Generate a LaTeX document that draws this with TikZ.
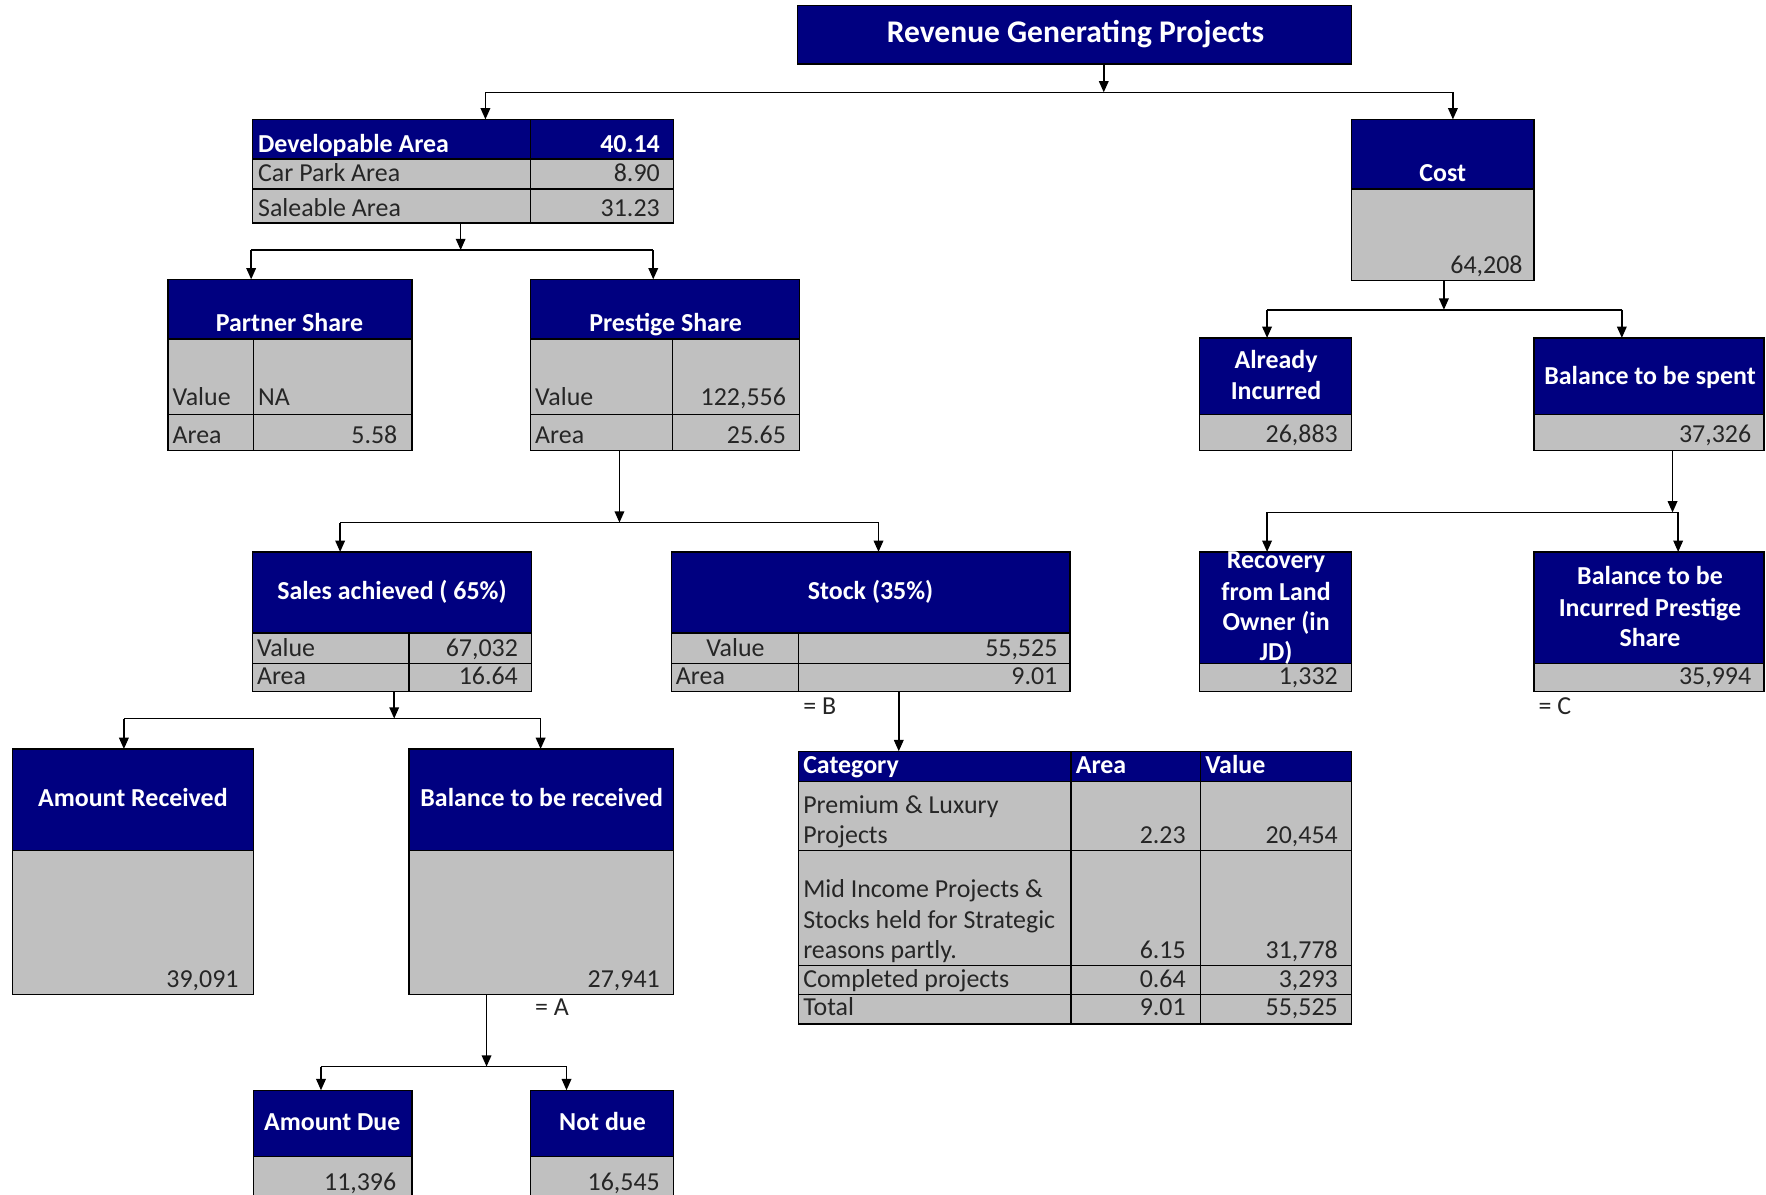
\documentclass[tikz,border=0pt]{standalone}
\usepackage{fontspec}
\setmainfont{Carlito}
\usetikzlibrary{arrows.meta,fit}
\definecolor{navyc}{RGB}{0,0,128}
\definecolor{greyc}{RGB}{192,192,192}
\newcommand\hcell[4]{\path[hd] (#1,#2) rectangle (#3,#4);}
\newcommand\gcell[4]{\path[gc] (#1,#2) rectangle (#3,#4);}
\begin{document}
\begin{tikzpicture}[x=1pt,y=-1pt,
  hd/.style={fill=navyc, draw=black, line width=1.3pt},
  gc/.style={fill=greyc, draw=black, line width=1.3pt},
  wt/.style={text=white, font=\bfseries\fontsize{23}{27.5}\selectfont, inner sep=0pt},
  bt/.style={text=black!85, font=\fontsize{23}{27.5}\selectfont, inner sep=0pt},
  frm/.style={inner sep=0pt, outer sep=0pt},
  conn/.style={line width=1.4pt},
  arr/.style={conn, -{Triangle[length=10pt,width=8.5pt]}},
]
\useasboundingbox (0,0) rectangle (1568,1061);
\clip (0,0) rectangle (1568,1061);
\fill[white] (0,0) rectangle (1568,1061);

% ---------- Title
\hcell{708}{5}{1200}{57}
\node[frm, fit={(708,5) (1200,57)}] (title) {};
\node[wt, font=\bfseries\fontsize{28}{30}\selectfont, anchor=base] (titletxt) at (955,38) {Revenue Generating Projects};

% ---------- Developable area
\hcell{224}{106}{471}{141}\hcell{471}{106}{598}{141}
\gcell{224}{141}{471}{168}\gcell{471}{141}{598}{168}
\gcell{224}{168}{471}{198}\gcell{471}{168}{598}{198}
\node[frm, fit={(224,106) (598,198)}] (dev) {};
\node[wt, anchor=base west] (d1) at (229,135) {Developable Area};
\node[wt, anchor=base east] (d2) at (586,135) {40.14};
\node[bt, anchor=base west] (d3) at (229,161) {Car Park Area};
\node[bt, anchor=base east] (d4) at (586,161) {8.90};
\node[bt, anchor=base west] (d5) at (229,192) {Saleable Area};
\node[bt, anchor=base east] (d6) at (586,192) {31.23};

% ---------- Partner share
\hcell{149}{248}{366}{301}
\gcell{149}{301}{225}{368}\gcell{225}{301}{366}{368}
\gcell{149}{368}{225}{400}\gcell{225}{368}{366}{400}
\node[frm, fit={(149,248) (366,400)}] (partner) {};
\node[wt, anchor=base] (p1) at (257,294) {Partner Share};
\node[bt, anchor=base west] (p2) at (153,360) {Value};
\node[bt, anchor=base west] (p3) at (229,360) {NA};
\node[bt, anchor=base west] (p4) at (153,394) {Area};
\node[bt, anchor=base east] (p5) at (353,394) {5.58};

% ---------- Prestige share
\hcell{471}{248}{710}{301}
\gcell{471}{301}{597}{368}\gcell{597}{301}{710}{368}
\gcell{471}{368}{597}{400}\gcell{597}{368}{710}{400}
\node[frm, fit={(471,248) (710,400)}] (prestige) {};
\node[wt, anchor=base] (q1) at (591,294) {Prestige Share};
\node[bt, anchor=base west] (q2) at (475,360) {Value};
\node[bt, anchor=base east] (q3) at (698,360) {122,556};
\node[bt, anchor=base west] (q4) at (475,394) {Area};
\node[bt, anchor=base east] (q5) at (698,394) {25.65};

% ---------- Sales achieved
\hcell{224}{490}{472}{562}
\gcell{224}{562}{363}{589}\gcell{363}{562}{472}{589}
\gcell{224}{589}{363}{614}\gcell{363}{589}{472}{614}
\node[frm, fit={(224,490) (472,614)}] (sales) {};
\node[wt, anchor=base] (s1) at (348,532) {Sales achieved ( 65\%)};
\node[bt, anchor=base west] (s2) at (228,583) {Value};
\node[bt, anchor=base east] (s3) at (460,583) {67,032};
\node[bt, anchor=base west] (s4) at (228,608) {Area};
\node[bt, anchor=base east] (s5) at (460,608) {16.64};

% ---------- Stock
\hcell{596}{490}{950}{562}
\gcell{596}{562}{709}{589}\gcell{709}{562}{950}{589}
\gcell{596}{589}{709}{614}\gcell{709}{589}{950}{614}
\node[frm, fit={(596,490) (950,614)}] (stock) {};
\node[wt, anchor=base] (k1) at (773,532) {Stock (35\%)};
\node[bt, anchor=base] (k2) at (653,583) {Value};
\node[bt, anchor=base east] (k3) at (939,583) {55,525};
\node[bt, anchor=base west] (k4) at (600,608) {Area};
\node[bt, anchor=base east] (k5) at (939,608) {9.01};
\node[bt, anchor=base west] (eqb) at (713,634) {= B};

% ---------- Amount received
\hcell{11}{665}{225}{755}
\gcell{11}{755}{225}{883}
\node[frm, fit={(11,665) (225,883)}] (amtrec) {};
\node[wt, anchor=base] (r1) at (118,716) {Amount Received};
\node[bt, anchor=base east] (r2) at (212,877) {39,091};

% ---------- Balance to be received
\hcell{363}{665}{598}{755}
\gcell{363}{755}{598}{883}
\node[frm, fit={(363,665) (598,883)}] (balrec) {};
\node[wt, anchor=base] (b1) at (481,716) {Balance to be received};
\node[bt, anchor=base east] (b2) at (586,877) {27,941};
\node[bt, anchor=base west] (eqa) at (475,902) {= A};

% ---------- Amount due / Not due
\hcell{225}{968}{366}{1027}
\gcell{225}{1027}{366}{1070}
\node[frm, fit={(225,968) (366,1070)}] (amtdue) {};
\node[wt, anchor=base] (u1) at (295,1004) {Amount Due};
\node[bt, anchor=base east] (u2) at (352,1057) {11,396};
\hcell{471}{968}{598}{1027}
\gcell{471}{1027}{598}{1070}
\node[frm, fit={(471,968) (598,1070)}] (notdue) {};
\node[wt, anchor=base] (n1) at (535,1004) {Not due};
\node[bt, anchor=base east] (n2) at (586,1057) {16,545};

% ---------- Category table
\hcell{709}{667}{951}{694}\hcell{951}{667}{1066}{694}\hcell{1066}{667}{1200}{694}
\gcell{709}{694}{951}{755}\gcell{951}{694}{1066}{755}\gcell{1066}{694}{1200}{755}
\gcell{709}{755}{951}{857}\gcell{951}{755}{1066}{857}\gcell{1066}{755}{1200}{857}
\gcell{709}{857}{951}{883}\gcell{951}{857}{1066}{883}\gcell{1066}{857}{1200}{883}
\gcell{709}{883}{951}{909}\gcell{951}{883}{1066}{909}\gcell{1066}{883}{1200}{909}
\node[frm, fit={(709,667) (1200,909)}] (cat) {};
\node[wt, anchor=base west] (c1) at (713,687) {Category};
\node[wt, anchor=base west] (c2) at (955,687) {Area};
\node[wt, anchor=base west] (c3) at (1070,687) {Value};
\node[bt, anchor=base west] (c4) at (713,722) {Premium \& Luxury};
\node[bt, anchor=base west] (c5) at (713,749) {Projects};
\node[bt, anchor=base east] (c6) at (1053,749) {2.23};
\node[bt, anchor=base east] (c7) at (1188,749) {20,454};
\node[bt, anchor=base west] (c8) at (713,797) {Mid Income Projects \&};
\node[bt, anchor=base west] (c9) at (713,824) {Stocks held for Strategic};
\node[bt, anchor=base west] (c10) at (713,851) {reasons partly.};
\node[bt, anchor=base east] (c11) at (1053,851) {6.15};
\node[bt, anchor=base east] (c12) at (1188,851) {31,778};
\node[bt, anchor=base west] (c13) at (713,877) {Completed projects};
\node[bt, anchor=base east] (c14) at (1053,877) {0.64};
\node[bt, anchor=base east] (c15) at (1188,877) {3,293};
\node[bt, anchor=base west] (c16) at (713,902) {Total};
\node[bt, anchor=base east] (c17) at (1053,902) {9.01};
\node[bt, anchor=base east] (c18) at (1188,902) {55,525};

% ---------- Cost
\hcell{1200}{106}{1362}{168}
\gcell{1200}{168}{1362}{249}
\node[frm, fit={(1200,106) (1362,249)}] (cost) {};
\node[wt, anchor=base] (o1) at (1281,161) {Cost};
\node[bt, anchor=base east] (o2) at (1352,243) {64,208};

% ---------- Already incurred
\hcell{1065}{300}{1200}{368}
\gcell{1065}{368}{1200}{400}
\node[frm, fit={(1065,300) (1200,400)}] (already) {};
\node[wt, anchor=base] (a1) at (1133,327) {Already};
\node[wt, anchor=base] (a2) at (1133,355) {Incurred};
\node[bt, anchor=base east] (a3) at (1188,393) {26,883};

% ---------- Balance to be spent
\hcell{1362}{300}{1566}{368}
\gcell{1362}{368}{1566}{400}
\node[frm, fit={(1362,300) (1566,400)}] (balspent) {};
\node[wt, anchor=base] (e1) at (1465,341) {Balance to be spent};
\node[bt, anchor=base east] (e2) at (1555,393) {37,326};

% ---------- Recovery from land owner
\hcell{1065}{490}{1200}{589}
\gcell{1065}{589}{1200}{614}
\node[frm, fit={(1065,490) (1200,614)}] (recov) {};
\node[wt, anchor=base] (v1) at (1133,505) {Recovery};
\node[wt, anchor=base] (v2) at (1133,533) {from Land};
\node[wt, anchor=base] (v3) at (1133,560) {Owner (in};
\node[wt, anchor=base] (v4) at (1133,586) {JD)};
\node[bt, anchor=base east] (v5) at (1188,608) {1,332};

% ---------- Balance to be incurred
\hcell{1362}{490}{1566}{589}
\gcell{1362}{589}{1566}{614}
\node[frm, fit={(1362,490) (1566,614)}] (balinc) {};
\node[wt, anchor=base] (i1) at (1465,519) {Balance to be};
\node[wt, anchor=base] (i2) at (1465,547) {Incurred Prestige};
\node[wt, anchor=base] (i3) at (1465,574) {Share};
\node[bt, anchor=base east] (i4) at (1555,608) {35,994};
\node[bt, anchor=base west] (eqc) at (1366,634) {= C};

% ---------- Connectors
\coordinate (j1) at (980,82);  \coordinate (j1l) at (431,82); \coordinate (j1r) at (1290,82);
\draw[arr] (title.south -| j1) -- (j1);
\draw[conn] (j1l) -- (j1r);
\draw[arr] (j1l) -- (dev.north -| j1l);
\draw[arr] (j1r) -- (cost.north -| j1r);

\coordinate (j2) at (409,222); \coordinate (j2l) at (223,222); \coordinate (j2r) at (580,222);
\draw[arr] (dev.south -| j2) -- (j2);
\draw[conn] (j2l) -- (j2r);
\draw[arr] (j2l) -- (partner.north -| j2l);
\draw[arr] (j2r) -- (prestige.north -| j2r);

\coordinate (j3) at (550,464); \coordinate (j3l) at (302,464); \coordinate (j3r) at (780,464);
\draw[arr] (prestige.south -| j3) -- (j3);
\draw[conn] (j3l) -- (j3r);
\draw[arr] (j3l) -- (sales.north -| j3l);
\draw[arr] (j3r) -- (stock.north -| j3r);

\coordinate (j4) at (350,638); \coordinate (j4l) at (110,638); \coordinate (j4r) at (480,638);
\draw[arr] (sales.south -| j4) -- (j4);
\draw[conn] (j4l) -- (j4r);
\draw[arr] (j4l) -- (amtrec.north -| j4l);
\draw[arr] (j4r) -- (balrec.north -| j4r);

\coordinate (j5) at (432,947); \coordinate (j5l) at (285,947); \coordinate (j5r) at (503,947);
\draw[arr] (balrec.south -| j5) -- (j5);
\draw[conn] (j5l) -- (j5r);
\draw[arr] (j5l) -- (amtdue.north -| j5l);
\draw[arr] (j5r) -- (notdue.north -| j5r);

\coordinate (j6) at (798,614);
\draw[arr] (stock.south -| j6) -- (cat.north -| j6);

\coordinate (j7) at (1282,275); \coordinate (j7l) at (1125,275); \coordinate (j7r) at (1440,275);
\draw[arr] (cost.south -| j7) -- (j7);
\draw[conn] (j7l) -- (j7r);
\draw[arr] (j7l) -- (already.north -| j7l);
\draw[arr] (j7r) -- (balspent.north -| j7r);

\coordinate (j8) at (1485,455); \coordinate (j8l) at (1125,455); \coordinate (j8r) at (1490,455);
\draw[arr] (balspent.south -| j8) -- (j8);
\draw[conn] (j8l) -- (j8r);
\draw[arr] (j8l) -- (recov.north -| j8l);
\draw[arr] (j8r) -- (balinc.north -| j8r);
\end{tikzpicture}
\end{document}
